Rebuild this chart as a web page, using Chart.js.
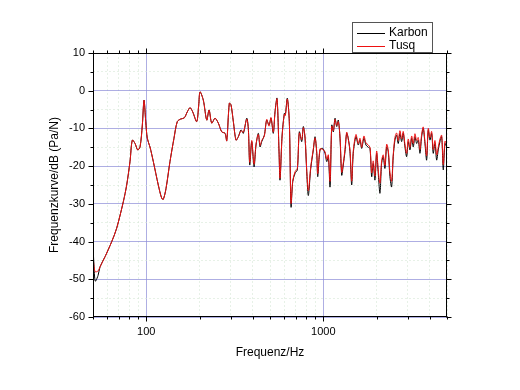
<!DOCTYPE html>
<html>
<head>
<meta charset="utf-8">
<script src="https://cdn.jsdelivr.net/npm/chart.js@4.4.0/dist/chart.umd.min.js"></script>
<style>
    html, body { margin: 0; padding: 0; background: #fff; }
</style>
</head>
<body>
<canvas id="freqChart" width="520" height="390"></canvas>
<script>
// Frequenz in Hz
const freqs = [
    50, 50.6, 51.5, 53.4, 54.8, 58.5, 63.8, 68, 74.2, 77.5,
    80.9, 83.4, 86.4, 89.4, 92.2, 95, 97.1, 99.3, 101.3, 104.9,
    109.6, 116.9, 122.2, 124.8, 129.3, 136.1, 143.4, 149.7, 156.5, 164,
    170.5, 176.7, 182.9, 192.7, 197.8, 201.2, 210, 219.6, 226.3, 234.3,
    244.6, 255.3, 266.9, 278.6, 284.8, 294.6, 301.2, 310.4, 321.4, 331.2,
    343, 353.5, 369.5, 377.2, 384.2, 394.3, 406.3, 416.9, 429.6, 439.2,
    449, 464.5, 479.1, 493.6, 506.6, 522, 533.7, 547.8, 562.3, 569.7,
    585, 602.5, 610.3, 626.4, 642.9, 657.3, 672, 692.5, 713.5, 732.3,
    755.6, 771.4, 788.7, 806.3, 823.3, 849.4, 878.6, 898.3, 918.4, 930.5,
    958.7, 992.9, 1023, 1046, 1068, 1092, 1117, 1140, 1165, 1191,
    1216, 1243, 1271, 1297, 1326, 1356, 1384, 1415, 1447, 1477,
    1530, 1576, 1612, 1648, 1697, 1742, 1795, 1836, 1877, 1915,
    1958, 2002, 2044, 2090, 2136, 2181, 2230, 2280, 2328, 2380,
    2433, 2484, 2540, 2596, 2651, 2710, 2771, 2829, 2893, 2958,
    3020, 3088, 3157, 3223, 3295, 3369, 3440, 3517, 3595, 3671,
    3753, 3837, 3918, 4005, 4095, 4181, 4275, 4370, 4462, 4563,
    4665, 4763, 4870, 4980
];

// Frequenzkurve in dB (Pa/N)
const karbon = [
    -41, -46, -50.5, -49, -46.7, -44, -40, -36.5, -29.4, -25,
    -18.8, -13.1, -14, -15.7, -14.9, -9.1, -2.5, -8.2, -12.6, -14.9,
    -18.8, -25, -28.5, -28.8, -25.9, -18.8, -12.6, -8.2, -7.5, -7.2,
    -5.6, -4.5, -5.6, -8.2, -3.8, -0.3, -2.5, -7.8, -5.1, -8.6,
    -7.3, -8.6, -10.9, -11.3, -13.3, -3.3, -3.8, -8.2, -13.1, -12.2,
    -10.4, -11.3, -7.3, -10, -19.7, -13.5, -20.2, -14.4, -11.3, -14.9,
    -13.5, -11.8, -7.8, -9.1, -7.3, -11.3, -5.6, -2, -16.2, -23.7,
    -12, -6, -6.4, -2, -8.2, -30.8, -24.1, -21.9, -21, -10.9,
    -13.5, -9.5, -12.6, -21.5, -27.8, -20.6, -15.7, -12.2, -16.6, -22.8,
    -15.7, -15.3, -16.6, -18.8, -17.5, -25.5, -9.1, -10.9, -7.3, -9.5,
    -7.8, -12.6, -22.4, -19.7, -16.2, -11.3, -12.6, -16.2, -25, -16.6,
    -12.2, -14.4, -13.1, -15.3, -12.6, -14.4, -15, -15.3, -22.8, -19.3,
    -23.7, -16.6, -21.9, -27.2, -19.3, -17.5, -20.6, -14.9, -16.2, -22.8,
    -25.5, -17.5, -13.1, -11.8, -14, -11.3, -13.5, -11.3, -14.9, -17.5,
    -13.5, -15.7, -12.6, -14.9, -12.2, -14, -13.1, -16.6, -12.2, -10,
    -14, -18.4, -10.4, -13.1, -11.3, -16.6, -14, -18.4, -15.7, -13.5,
    -12.2, -21, -14, -14.9
];

const tusq = [
    -43.6, -46.5, -48, -47.8, -46.7, -44, -40, -36.5, -29.4, -25,
    -18.8, -13.1, -14, -15.7, -14.9, -9.1, -2.5, -8.2, -12.6, -14.9,
    -18.8, -25, -28.5, -28.8, -25.9, -18.8, -12.6, -8.2, -7.5, -7.2,
    -5.6, -4.5, -5.6, -8.2, -3.8, -0.3, -2.5, -7.8, -5.1, -8.6,
    -7.3, -8.6, -10.9, -11.3, -13.3, -3.3, -3.8, -8.2, -13.1, -12.2,
    -10.6, -11, -7.5, -10.3, -19, -13.2, -19.5, -14.2, -11.6, -14.5,
    -13.2, -12, -7.6, -9.4, -7.1, -11, -5.8, -2.2, -16, -23.2,
    -12.2, -6.2, -6.6, -2.2, -8.4, -29.8, -24, -21.5, -20.6, -11.2,
    -13, -9.8, -12.2, -21, -26.5, -20.2, -15.4, -12.5, -16.2, -22,
    -15.4, -15.6, -16.2, -18.2, -17, -24, -9.4, -10.6, -7.6, -9.2,
    -8.2, -12.2, -21.6, -19.2, -15.6, -11, -12.9, -15.6, -24, -16,
    -11.6, -14, -12.6, -15, -12, -13.8, -14.4, -15, -21.8, -18.6,
    -22.6, -16, -21, -24.5, -18.6, -17, -19.8, -14.2, -15.6, -21.6,
    -24, -17, -12.4, -11.2, -13.2, -10.6, -12.8, -10.8, -14.2, -16.6,
    -12.8, -15, -12, -14, -11.4, -13.2, -12.4, -15.6, -11.6, -9.6,
    -13.4, -17.2, -10, -12.4, -10.8, -15.6, -13.2, -17, -15, -12.8,
    -11.8, -19.6, -13.4, -14.2
];

const xTicks = [50, 60, 70, 80, 90, 100, 200, 300, 400, 500, 600, 700, 800, 900, 1000, 2000, 3000, 4000, 5000];
const xLabels = [100, 1000];
const yTicks = [-60, -55, -50, -45, -40, -35, -30, -25, -20, -15, -10, -5, 0, 5, 10];
const yLabels = [-60, -50, -40, -30, -20, -10, 0, 10];

const majorGrid = 'rgba(140, 140, 215, 0.7)';
const minorGrid = 'rgba(215, 232, 215, 0.6)';
const fontFamily = '"Liberation Sans", Arial, sans-serif';

const toPoints = (vals) => freqs.map((f, i) => ({ x: f, y: vals[i] }));

// Rahmen, Ticks auf allen vier Seiten und Legende
const framePlugin = {
    id: 'framePlugin',
    afterDraw(chart) {
        const { ctx, chartArea: a, scales } = chart;
        const L = Math.round(a.left) + 0.5, R = Math.round(a.right) - 0.5;
        const T = Math.round(a.top) + 0.5, B = Math.round(a.bottom) - 0.5;
        ctx.save();
        ctx.strokeStyle = '#000';
        ctx.lineWidth = 1;
        ctx.strokeRect(L, T, R - L, B - T);

        ctx.beginPath();
        xTicks.forEach(v => {
            const px = Math.round(scales.x.getPixelForValue(v)) + 0.5;
            const len = xLabels.includes(v) ? 5 : 3;
            ctx.moveTo(px, B); ctx.lineTo(px, B + len);
            ctx.moveTo(px, T); ctx.lineTo(px, T - len);
        });
        yTicks.forEach(v => {
            const py = Math.round(scales.y.getPixelForValue(v)) + 0.5;
            const len = yLabels.includes(v) ? 5 : 3;
            ctx.moveTo(L, py); ctx.lineTo(L - len, py);
            ctx.moveTo(R, py); ctx.lineTo(R + len, py);
        });
        ctx.stroke();

        // Legende
        const bx = 352.5, by = 22.5, bw = 80, bh = 30;
        ctx.fillStyle = '#fff';
        ctx.fillRect(bx, by, bw, bh);
        ctx.strokeStyle = '#555';
        ctx.strokeRect(bx, by, bw, bh);
        ctx.font = '12px ' + fontFamily;
        ctx.textBaseline = 'middle';
        ctx.textAlign = 'left';
        const rows = [33, 46];
        chart.data.datasets.forEach((ds, i) => {
            const y = rows[i] + 0.5;
            ctx.strokeStyle = ds.borderColor;
            ctx.beginPath();
            ctx.moveTo(357, y); ctx.lineTo(385, y);
            ctx.stroke();
            ctx.fillStyle = '#000';
            ctx.fillText(ds.label, 389, rows[i]);
        });
        ctx.restore();
    }
};

new Chart(document.getElementById('freqChart'), {
    type: 'line',
    data: {
        datasets: [
            {
                label: 'Karbon',
                data: toPoints(karbon),
                borderColor: '#000000',
                borderWidth: 1,
                pointRadius: 0,
                tension: 0.3,
                order: 2
            },
            {
                label: 'Tusq',
                data: toPoints(tusq),
                borderColor: '#ee1111',
                borderWidth: 1,
                pointRadius: 0,
                tension: 0.3,
                order: 1
            }
        ]
    },
    options: {
        responsive: false,
        animation: false,
        layout: {
            padding: { left: 47, top: 53, right: 73, bottom: 30 }
        },
        plugins: {
            legend: { display: false },
            tooltip: { enabled: false }
        },
        scales: {
            x: {
                type: 'logarithmic',
                min: 50,
                max: 5000,
                afterBuildTicks: (s) => {
                    s.ticks = xTicks.map(v => ({ value: v, major: xLabels.includes(v) }));
                },
                afterFit: (s) => { s.height = 43; },
                ticks: {
                    autoSkip: false,
                    maxRotation: 0,
                    padding: 8,
                    color: '#000',
                    font: { family: fontFamily, size: 11 },
                    callback: (v) => xLabels.includes(v) ? String(v) : ''
                },
                grid: {
                    drawTicks: false,
                    lineWidth: 1,
                    color: (c) => xLabels.includes(c.tick.value) ? majorGrid : minorGrid
                },
                border: {
                    display: false,
                    dash: (c) => xLabels.includes(c.tick.value) ? [] : [2, 2]
                },
                title: {
                    display: true,
                    text: 'Frequenz/Hz',
                    color: '#000',
                    padding: 0,
                    font: { family: fontFamily, size: 12 }
                }
            },
            y: {
                min: -60,
                max: 10,
                afterBuildTicks: (s) => {
                    s.ticks = yTicks.map(v => ({ value: v, major: yLabels.includes(v) }));
                },
                afterFit: (s) => { s.width = 46; },
                ticks: {
                    autoSkip: false,
                    padding: 8,
                    color: '#000',
                    font: { family: fontFamily, size: 11 },
                    callback: (v) => yLabels.includes(v) ? String(v) : ''
                },
                grid: {
                    drawTicks: false,
                    lineWidth: 1,
                    color: (c) => yLabels.includes(c.tick.value) ? majorGrid : minorGrid
                },
                border: {
                    display: false,
                    dash: (c) => yLabels.includes(c.tick.value) ? [] : [2, 2]
                },
                title: {
                    display: true,
                    text: 'Frequenzkurve/dB (Pa/N)',
                    color: '#000',
                    padding: 0,
                    font: { family: fontFamily, size: 12 }
                }
            }
        }
    },
    plugins: [framePlugin]
});
</script>
</body>
</html>
